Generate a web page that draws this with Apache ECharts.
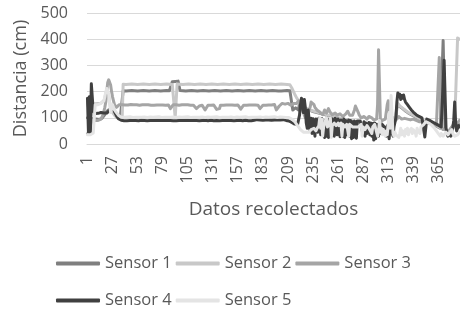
<!DOCTYPE html>
<html>
<head>
<meta charset="utf-8" />
<title>Distancia sensores</title>
<style>
    html, body { margin: 0; padding: 0; background: #ffffff; }
    #chart { width: 460px; height: 312px; }
</style>
</head>
<body>
<div id="chart"></div>
<script src="https://cdn.jsdelivr.net/npm/echarts@6/dist/echarts.min.js"></script>
<script>
    // valores (cm), un dato por muestra
    var sensor1 = [
        100, 98, 95, 96, 98, 100, 98, 96, 95, 95,
        96, 95, 94, 95, 96, 98, 100, 105, 112, 120,
        125, 128, 130, 132, 135, 134, 130, 126, 122, 118,
        114, 110, 106, 103, 101, 100, 100, 203, 204, 203,
        202, 203, 204, 203, 202, 203, 204, 203, 202, 203,
        204, 203, 202, 203, 204, 203, 202, 203, 204, 203,
        202, 203, 204, 203, 202, 203, 204, 203, 202, 203,
        204, 203, 202, 203, 204, 203, 202, 203, 204, 203,
        202, 203, 204, 203, 202, 203, 204, 203, 238, 243,
        241, 239, 240, 242, 240, 238, 204, 203, 202, 203,
        204, 203, 202, 203, 204, 203, 202, 203, 204, 203,
        202, 203, 204, 203, 202, 203, 204, 203, 202, 203,
        204, 203, 202, 203, 204, 203, 202, 203, 204, 203,
        202, 203, 204, 203, 202, 203, 204, 203, 202, 203,
        204, 203, 202, 203, 204, 203, 202, 203, 204, 203,
        202, 203, 204, 203, 202, 203, 204, 203, 202, 203,
        204, 203, 202, 203, 204, 203, 202, 203, 204, 203,
        202, 203, 204, 203, 202, 203, 204, 203, 202, 203,
        204, 203, 202, 203, 204, 203, 202, 203, 204, 203,
        202, 203, 204, 203, 202, 203, 204, 203, 202, 203,
        203, 202, 203, 204, 203, 202, 203, 204, 203, 202,
        203, 202, 200, 130, 128, 132, 138, 140, 135, 130,
        158, 153, 148, 144, 141, 138, 136, 134, 132, 130,
        129, 128, 126, 125, 124, 123, 122, 121, 120, 119,
        118, 117, 116, 115, 114, 113, 112, 111, 110, 109,
        108, 108, 107, 106, 105, 104, 103, 102, 101, 100,
        99, 98, 97, 96, 95, 95, 94, 93, 92, 91,
        90, 89, 88, 88, 87, 86, 85, 84, 83, 82,
        82, 81, 80, 79, 78, 78, 77, 76, 75, 74,
        74, 73, 72, 72, 71, 70, 70, 69, 68, 68,
        67, 66, 66, 65, 64, 64, 63, 62, 62, 61,
        60, 60, 59, 58, 58, 60, 63, 68, 78, 88,
        100, 140, 152, 148, 143, 140, 138, 135, 132, 129,
        126, 123, 120, 118, 116, 114, 112, 110, 108, 106,
        104, 102, 100, 98, 96, 94, 92, 90, 88, 86,
        84, 83, 82, 81, 80, 79, 78, 77, 76, 74,
        72, 70, 68, 66, 64, 62, 60, 58, 56, 395,
        390, 60, 55, 50, 48, 45, 50, 55, 60, 65,
        70, 75, 80, 85, 80, 75, 70
    ];
    var sensor2 = [
        160, 140, 120, 100, 110, 150, 155, 155, 154, 155,
        156, 155, 154, 155, 156, 158, 160, 165, 175, 195,
        205, 200, 185, 160, 140, 130, 120, 115, 110, 105,
        102, 100, 100, 100, 100, 100, 100, 228, 229, 228,
        227, 228, 229, 228, 227, 228, 229, 228, 227, 228,
        229, 228, 227, 228, 229, 228, 227, 228, 229, 228,
        227, 228, 229, 228, 227, 228, 229, 228, 227, 228,
        229, 228, 227, 228, 229, 228, 227, 228, 229, 228,
        227, 228, 229, 228, 227, 228, 229, 228, 227, 228,
        228, 100, 100, 229, 228, 227, 228, 229, 228, 227,
        228, 229, 228, 227, 228, 229, 228, 227, 228, 229,
        228, 227, 228, 229, 228, 227, 228, 229, 228, 227,
        228, 229, 228, 227, 228, 229, 228, 227, 228, 229,
        228, 227, 228, 229, 228, 227, 228, 229, 228, 227,
        228, 229, 228, 227, 228, 229, 228, 227, 228, 229,
        228, 227, 228, 229, 228, 227, 228, 229, 228, 227,
        228, 229, 228, 227, 228, 229, 228, 227, 228, 229,
        228, 227, 228, 229, 228, 227, 228, 229, 228, 227,
        228, 229, 228, 227, 228, 229, 228, 227, 228, 229,
        228, 227, 228, 229, 228, 227, 228, 229, 228, 227,
        228, 229, 228, 227, 228, 229, 228, 227, 228, 228,
        226, 222, 214, 206, 198, 190, 183, 176, 170, 165,
        160, 155, 150, 146, 143, 140, 138, 136, 134, 132,
        131, 130, 128, 127, 126, 125, 124, 123, 122, 121,
        120, 119, 118, 117, 116, 115, 114, 113, 112, 111,
        110, 110, 109, 108, 107, 106, 105, 104, 103, 102,
        101, 100, 99, 98, 97, 97, 96, 95, 94, 93,
        92, 91, 90, 90, 89, 88, 87, 86, 85, 84,
        84, 83, 82, 81, 80, 80, 79, 78, 77, 76,
        76, 75, 74, 74, 73, 72, 72, 71, 70, 70,
        69, 68, 68, 67, 66, 66, 65, 64, 64, 63,
        62, 62, 61, 60, 60, 62, 65, 70, 80, 90,
        110, 145, 155, 150, 145, 142, 140, 137, 134, 131,
        128, 125, 122, 120, 118, 116, 114, 112, 110, 108,
        106, 104, 102, 100, 98, 96, 94, 92, 90, 88,
        86, 85, 84, 83, 82, 81, 80, 79, 78, 76,
        74, 72, 70, 68, 66, 64, 62, 60, 58, 56,
        55, 54, 53, 52, 51, 50, 55, 60, 65, 70,
        75, 80, 82, 85, 405, 405, 400
    ];
    var sensor3 = [
        40, 45, 50, 60, 80, 90, 90, 90, 90, 90,
        90, 90, 90, 92, 95, 100, 110, 125, 140, 160,
        200, 235, 245, 240, 225, 200, 180, 165, 150, 145,
        140, 138, 145, 150, 155, 152, 150, 148, 150, 149,
        148, 150, 149, 148, 150, 151, 149, 148, 150, 149,
        148, 150, 151, 149, 148, 150, 149, 150, 148, 149,
        150, 149, 148, 150, 151, 149, 148, 150, 149, 148,
        150, 151, 149, 148, 150, 149, 150, 148, 149, 150,
        149, 148, 150, 151, 149, 148, 135, 128, 140, 150,
        149, 148, 150, 151, 149, 148, 150, 149, 150, 148,
        149, 150, 149, 148, 150, 151, 149, 148, 150, 149,
        148, 150, 149, 135, 128, 130, 145, 150, 149, 148,
        150, 149, 130, 126, 132, 148, 150, 149, 148, 150,
        151, 149, 148, 150, 132, 127, 128, 135, 148, 150,
        149, 148, 150, 151, 149, 148, 150, 149, 150, 148,
        149, 150, 149, 148, 150, 151, 149, 148, 150, 133,
        127, 130, 148, 150, 149, 148, 150, 151, 149, 148,
        150, 149, 150, 148, 149, 150, 149, 148, 150, 135,
        128, 132, 148, 150, 149, 148, 150, 151, 149, 148,
        150, 149, 148, 150, 151, 140, 130, 128, 135, 145,
        150, 152, 155, 153, 150, 152, 155, 157, 155, 153,
        150, 148, 145, 150, 155, 160, 158, 155, 160, 165,
        168, 160, 140, 130, 120, 110, 100, 105, 110, 120,
        130, 140, 160, 165, 160, 150, 140, 135, 130, 128,
        125, 122, 118, 115, 112, 120, 130, 125, 118, 115,
        135, 128, 120, 115, 112, 110, 115, 118, 112, 110,
        108, 112, 115, 110, 108, 105, 110, 112, 115, 120,
        125, 118, 110, 108, 105, 110, 115, 130, 145, 150,
        140, 120, 110, 105, 100, 98, 102, 105, 100, 98,
        95, 100, 105, 110, 108, 100, 95, 92, 90, 92,
        95, 150, 360, 355, 80, 85, 90, 88, 92, 95,
        100, 150, 165, 120, 110, 100, 95, 98, 100, 102,
        98, 95, 100, 105, 100, 98, 95, 100, 102, 98,
        95, 92, 95, 98, 95, 92, 90, 92, 95, 90,
        88, 90, 92, 88, 85, 88, 90, 86, 84, 86,
        84, 82, 84, 86, 82, 80, 78, 80, 78, 76,
        75, 72, 70, 68, 70, 330, 325, 65, 60, 55,
        50, 60, 55, 50, 45, 50, 55, 60, 65, 70,
        75, 80, 78, 75, 80, 85, 90
    ];
    var sensor4 = [
        175, 45, 180, 40, 230, 228, 125, 118, 116, 118,
        120, 117, 115, 118, 120, 119, 117, 118, 120, 118,
        118, 120, 122, 128, 135, 140, 138, 132, 124, 116,
        108, 102, 97, 94, 92, 91, 90, 90, 89, 90,
        90, 89, 90, 91, 90, 89, 90, 90, 89, 90,
        90, 91, 90, 89, 90, 90, 91, 90, 89, 90,
        90, 90, 89, 90, 91, 90, 90, 89, 90, 90,
        89, 90, 90, 91, 90, 89, 90, 90, 90, 89,
        90, 91, 90, 90, 89, 90, 90, 91, 90, 89,
        90, 90, 89, 90, 91, 90, 90, 89, 90, 90,
        91, 90, 89, 90, 90, 90, 89, 90, 91, 90,
        90, 89, 90, 90, 91, 90, 89, 90, 90, 90,
        89, 90, 91, 90, 90, 89, 90, 90, 91, 90,
        90, 89, 90, 90, 90, 91, 90, 89, 90, 90,
        90, 90, 89, 90, 91, 90, 90, 89, 90, 90,
        91, 90, 89, 90, 90, 90, 89, 90, 91, 90,
        90, 89, 90, 90, 91, 90, 90, 89, 90, 90,
        89, 90, 90, 91, 90, 92, 93, 92, 91, 92,
        93, 92, 91, 92, 93, 92, 91, 92, 92, 93,
        92, 91, 92, 93, 92, 92, 91, 92, 93, 92,
        92, 91, 92, 93, 92, 91, 90, 90, 89, 88,
        86, 84, 82, 80, 78, 76, 75, 74, 75, 78,
        110, 150, 175, 165, 120, 170, 140, 80, 60, 130,
        90, 50, 98, 40, 96, 100, 30, 95, 97, 45,
        98, 96, 35, 97, 100, 40, 25, 90, 30, 95,
        25, 35, 100, 30, 95, 97, 30, 98, 95, 35,
        95, 90, 28, 92, 90, 30, 95, 25, 90, 35,
        28, 92, 30, 90, 20, 85, 25, 88, 30, 22,
        88, 85, 90, 88, 85, 86, 35, 85, 30, 80,
        40, 33, 82, 35, 80, 30, 78, 15, 80, 20,
        75, 78, 30, 76, 75, 40, 74, 72, 70, 60,
        30, 70, 72, 20, 70, 70, 68, 30, 65, 70,
        100, 160, 195, 180, 190, 170, 185, 175, 187, 170,
        160, 155, 150, 145, 140, 133, 130, 125, 122, 118,
        115, 112, 110, 108, 105, 103, 101, 100, 98, 96,
        27, 30, 95, 94, 92, 90, 88, 86, 84, 82,
        80, 78, 76, 74, 72, 70, 68, 65, 62, 62,
        320, 318, 60, 40, 30, 35, 40, 30, 50, 60,
        90, 160, 80, 50, 60, 70, 65
    ];
    var sensor5 = [
        35, 30, 32, 35, 38, 40, 42, 45, 150, 152,
        155, 150, 148, 152, 155, 158, 160, 165, 180, 200,
        212, 208, 190, 150, 120, 135, 150, 140, 130, 125,
        120, 115, 110, 106, 104, 102, 102, 101, 102, 103,
        102, 103, 101, 102, 104, 103, 102, 101, 102, 103,
        102, 103, 101, 102, 104, 103, 102, 101, 102, 103,
        102, 103, 101, 102, 104, 103, 102, 101, 102, 103,
        102, 103, 101, 102, 104, 103, 102, 101, 102, 103,
        102, 103, 101, 102, 104, 103, 102, 101, 102, 103,
        102, 103, 101, 102, 104, 103, 102, 101, 102, 103,
        102, 103, 101, 102, 104, 103, 102, 101, 102, 103,
        102, 103, 101, 102, 104, 103, 102, 101, 102, 103,
        102, 103, 101, 102, 104, 103, 102, 101, 102, 103,
        102, 103, 101, 102, 104, 103, 102, 101, 102, 103,
        102, 103, 101, 102, 104, 103, 102, 101, 102, 103,
        102, 103, 101, 102, 104, 103, 102, 101, 102, 103,
        102, 103, 101, 102, 104, 103, 102, 101, 102, 103,
        102, 103, 101, 102, 104, 103, 102, 101, 102, 103,
        102, 103, 101, 102, 104, 103, 102, 101, 102, 103,
        102, 103, 101, 102, 104, 103, 102, 101, 102, 103,
        103, 102, 101, 102, 103, 102, 101, 100, 100, 101,
        100, 98, 95, 92, 90, 85, 80, 75, 70, 65,
        60, 55, 50, 48, 45, 42, 40, 45, 50, 48,
        45, 50, 55, 48, 52, 60, 55, 50, 58, 62,
        70, 100, 60, 95, 30, 65, 70, 90, 100, 65,
        60, 75, 100, 25, 70, 75, 80, 85, 70, 75,
        80, 70, 75, 80, 30, 75, 70, 65, 70, 75,
        80, 30, 75, 70, 75, 65, 60, 70, 65, 60,
        70, 65, 60, 70, 75, 30, 65, 60, 55, 60,
        70, 65, 60, 55, 60, 40, 65, 70, 75, 60,
        55, 30, 50, 90, 45, 60, 35, 55, 40, 30,
        50, 35, 40, 120, 60, 185, 190, 40, 30, 45,
        35, 30, 40, 25, 40, 60, 35, 50, 45, 30,
        55, 40, 60, 35, 50, 45, 60, 40, 55, 50,
        45, 30, 60, 50, 55, 40, 65, 60, 70, 75,
        80, 85, 90, 85, 80, 78, 75, 72, 70, 65,
        60, 55, 50, 45, 40, 35, 30, 40, 35, 30,
        25, 30, 45, 40, 35, 30, 45, 40, 55, 40,
        35, 30, 25, 30, 35, 40, 45
    ];
    var seriesNames = ['Sensor 1', 'Sensor 2', 'Sensor 3', 'Sensor 4', 'Sensor 5'];
    var seriesColors = ['#7f7f7f', '#c8c8c8', '#a5a5a5', '#404040', '#e4e4e4'];
    var seriesData = [sensor1, sensor2, sensor3, sensor4, sensor5];

    // etiquetas del eje x: numero de muestra 1..N
    var categories = [];
    for (var k = 1; k <= sensor1.length; k++) {
        categories.push(String(k));
    }

    var textColor = '#595959';
    var fontName = 'Open Sans';

    var series = seriesNames.map(function (name, idx) {
        return {
            name: name,
            type: 'line',
            data: seriesData[idx],
            symbol: 'none',
            color: seriesColors[idx],
            lineStyle: { width: 3, color: seriesColors[idx], join: 'round', cap: 'round' },
            emphasis: { disabled: true }
        };
    });

    var legendBase = {
        left: 56,
        padding: 0,
        itemWidth: 44,
        itemHeight: 4,
        itemGap: 4,
        icon: 'roundRect',
        textStyle: { color: textColor, fontFamily: fontName, fontSize: 16.5 }
    };

    var option = {
        animation: false,
        backgroundColor: '#ffffff',
        grid: { left: 87, right: 0, top: 13, bottom: 168, containLabel: false },
        legend: [
            Object.assign({}, legendBase, { top: 255, data: seriesNames.slice(0, 3) }),
            Object.assign({}, legendBase, { top: 292, data: seriesNames.slice(3) })
        ],
        xAxis: {
            type: 'category',
            data: categories,
            boundaryGap: true,
            name: 'Datos recolectados',
            nameLocation: 'middle',
            nameGap: 56,
            nameTextStyle: { color: textColor, fontFamily: fontName, fontSize: 19 },
            axisLine: { lineStyle: { color: '#d9d9d9', width: 1 } },
            axisTick: { show: false },
            axisLabel: {
                interval: 25,
                rotate: 90,
                margin: 12,
                color: textColor,
                fontFamily: fontName,
                fontSize: 16
            },
            splitLine: { show: false }
        },
        yAxis: {
            type: 'value',
            min: 0,
            max: 500,
            interval: 100,
            name: 'Distancia (cm)',
            nameLocation: 'middle',
            nameGap: 52,
            nameTextStyle: { color: textColor, fontFamily: fontName, fontSize: 18 },
            axisLine: { show: false },
            axisTick: { show: false },
            axisLabel: { margin: 19, color: textColor, fontFamily: fontName, fontSize: 16 },
            splitLine: { lineStyle: { color: '#d9d9d9', width: 1 } }
        },
        series: series
    };

    var myChart = echarts.init(document.getElementById('chart'), null, { renderer: 'canvas' });
    myChart.setOption(option);
</script>
</body>
</html>
